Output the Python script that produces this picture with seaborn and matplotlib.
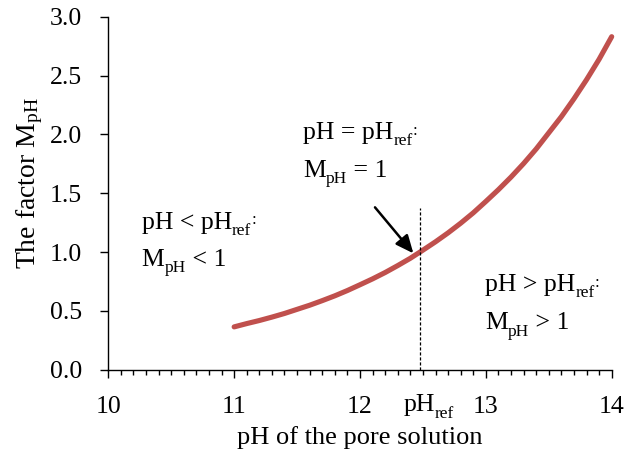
import matplotlib
matplotlib.use("Agg")
import matplotlib.pyplot as plt
import matplotlib.transforms as mtransforms
from matplotlib.ticker import MultipleLocator, FormatStrFormatter
import seaborn as sns
import pandas as pd

# values
ph_values = [11.0, 11.1, 11.2, 11.3, 11.4, 11.5, 11.6, 11.7, 11.8, 11.9,
             12.0, 12.1, 12.2, 12.3, 12.4, 12.5, 12.6, 12.7, 12.8, 12.9,
             13.0, 13.1, 13.2, 13.3, 13.4, 13.5, 13.6, 13.7, 13.8, 13.9, 14.0]
m_values = [0.364, 0.392, 0.418, 0.447, 0.478, 0.513, 0.548, 0.587, 0.628, 0.673,
            0.722, 0.772, 0.826, 0.885, 0.947, 1.016, 1.087, 1.163, 1.245, 1.333,
            1.430, 1.530, 1.637, 1.752, 1.876, 2.013, 2.150, 2.302, 2.464, 2.638, 2.830]
ph_ref = 12.48
x_ticks = [10, 11, 12, 13, 14]
y_ticks = [0.0, 0.5, 1.0, 1.5, 2.0, 2.5, 3.0]

df = pd.DataFrame({"pH": ph_values, "M": m_values})

sns.set_theme(style="ticks")
plt.rcParams["font.family"] = ["Liberation Serif", "DejaVu Serif"]
plt.rcParams["mathtext.fontset"] = "custom"
plt.rcParams["mathtext.rm"] = "Liberation Serif"
plt.rcParams["mathtext.it"] = "Liberation Serif:italic"
plt.rcParams["mathtext.bf"] = "Liberation Serif:bold"
plt.rcParams["text.color"] = "black"
plt.rcParams["axes.labelcolor"] = "black"
plt.rcParams["xtick.color"] = "black"
plt.rcParams["ytick.color"] = "black"

fs = 18.5
sfs = 12.5
drop = -4.5
fig = plt.figure(figsize=(6.25, 4.57), dpi=100)
ax = fig.add_axes([0.1733, 0.1910, 0.8054, 0.7725])

sns.lineplot(data=df, x="pH", y="M", ax=ax, color="#C0504D", linewidth=3.7)
for ln in ax.lines:
    ln.set_clip_on(False)
    ln.set_solid_capstyle("round")
    ln.set_solid_joinstyle("round")

ax.set_xlim(10, 14)
ax.set_ylim(0, 3)
ax.set_xticks(x_ticks)
ax.set_yticks(y_ticks)
ax.yaxis.set_major_formatter(FormatStrFormatter("%.1f"))
ax.xaxis.set_minor_locator(MultipleLocator(0.1))

for s in ["top", "right"]:
    ax.spines[s].set_visible(False)
for s in ["left", "bottom"]:
    ax.spines[s].set_color("black")
    ax.spines[s].set_linewidth(1.0)

ax.tick_params(axis="both", which="major", direction="out", length=5.5, width=1.0,
               color="black", labelsize=fs, labelcolor="black", pad=13.5)
ax.tick_params(axis="x", which="minor", direction="out", length=3.5, width=1.0, color="black")

ax.set_xlabel("pH of the pore solution", fontsize=19, color="black")
ax.set_ylabel(r"The factor M$_{\mathrm{pH}}$", fontsize=20, color="black")
ax.xaxis.set_label_coords(0.5, -0.16)
ax.yaxis.set_label_coords(-0.125, 0.53)

# dashed reference line
ax.plot([ph_ref, ph_ref], [0, 1.37], color="black", linestyle=(0, (2.5, 1.5)),
        linewidth=0.9, clip_on=False)


def rich(x, y, parts, coords="data"):
    """Draw text pieces one after another: (string, fontsize, baseline offset pt)."""
    s0, f0, d0 = parts[0]
    prev = ax.annotate(s0, xy=(x, y), xycoords=coords, xytext=(0, d0),
                       textcoords="offset points", fontsize=f0,
                       ha="left", va="baseline", annotation_clip=False)
    for s, f, d in parts[1:]:
        prev = ax.annotate(s, xy=(1, y), xycoords=(prev, coords), xytext=(0, d),
                           textcoords="offset points", fontsize=f,
                           ha="left", va="baseline", annotation_clip=False)
    return prev


# pH_ref label on the axis
trans = mtransforms.blended_transform_factory(ax.transData, ax.transAxes)
rich(12.345, -0.118, [("pH", fs, 0), ("ref", sfs, drop)], coords=trans)

# arrow
ax.annotate("", xy=(12.424, 0.989), xytext=(12.119, 1.38),
            arrowprops=dict(arrowstyle="-|>,head_length=0.9,head_width=0.4",
                            color="black", lw=1.8, shrinkA=0, shrinkB=0))

# annotations
rich(11.55, 1.96, [("pH = pH", fs, 0), ("ref", sfs, drop), (":", sfs, 3)])
rich(11.55, 1.64, [("M", fs, 0), ("pH", sfs, drop), (" = 1", fs, 0)])
rich(10.265, 1.20, [("pH < pH", fs, 0), ("ref", sfs, drop), (":", sfs, 3)])
rich(10.265, 0.88, [("M", fs, 0), ("pH", sfs, drop), (" < 1", fs, 0)])
rich(12.993, 0.67, [("pH > pH", fs, 0), ("ref", sfs, drop), (":", sfs, 3)])
rich(12.993, 0.343, [("M", fs, 0), ("pH", sfs, drop), (" > 1", fs, 0)])

fig.savefig("out.png", dpi=100, facecolor="white")
